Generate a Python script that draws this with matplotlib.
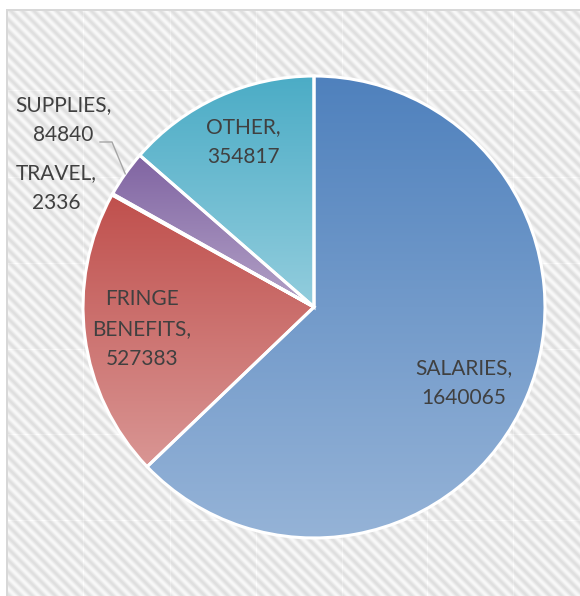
import numpy as np
import matplotlib.pyplot as plt

categories = ['SALARIES', 'FRINGE BENEFITS', 'TRAVEL', 'SUPPLIES', 'OTHER']
values = [1640065, 527383, 2336, 84840, 354817]

top_colors = ['#4F81BD', '#C0504D', '#9BBB59', '#8064A2', '#4BACC6']
bottom_colors = ['#95B3D7', '#D99694', '#C3D69B', '#B3A2C7', '#93CDDD']

# label centres in pixels measured from the top-left corner
label_pos = [(464, 383), (142, 329), (56, 188), (63, 120), (243, 142)]

W, H = 580, 596
fig = plt.figure(figsize=(W / 100, H / 100), dpi=100)
ax = fig.add_axes([0, 0, 1, 1])

# striped chart-area texture
yy, xx = np.mgrid[0:H, 0:W]
stripe = 0.5 + 0.5 * np.cos(2 * np.pi * (xx - yy) / 11.5)
gray = 0.975 - 0.10 * stripe
for s in (83, 170, 256, 342, 427, 513):
    gray[:, s] = np.minimum(1, gray[:, s] + 0.03)
    if s + 7 < H:
        gray[s + 7, :] = np.minimum(1, gray[s + 7, :] + 0.03)
gray[:, :7] = 1.0
gray[:10, :] = 1.0
gray[10:, 6:8] = 0.85
gray[9:11, 6:] = 0.85
ax.imshow(np.dstack([gray] * 3), extent=(0, W, 0, H), origin='upper',
          interpolation='bilinear', zorder=0)

cx, cy, r = 314, H - 307, 231
wedges, _ = ax.pie(values, startangle=90, counterclock=False, center=(cx, cy),
                   radius=r, wedgeprops=dict(edgecolor='white', linewidth=2.2,
                                             facecolor='none', zorder=3))

# vertical gradient fill for each slice
for w, c0, c1 in zip(wedges, top_colors, bottom_colors):
    ext = w.get_path().get_extents()
    a = np.array(plt.matplotlib.colors.to_rgb(c0))
    b = np.array(plt.matplotlib.colors.to_rgb(c1))
    t = np.linspace(0, 1, 256)[:, None, None]
    grad = a * (1 - t) + b * t
    im = ax.imshow(grad, extent=(ext.x0, ext.x1, ext.y0, ext.y1), origin='upper',
                   aspect='auto', zorder=2)
    im.set_clip_path(w)

for cat, val, (x, y) in zip(categories, values, label_pos):
    txt = cat.replace(' ', '\n') + ',\n' + str(val)
    ax.text(x, H - y, txt, ha='center', va='center', fontsize=15, color='#404040',
            family='Lato', linespacing=1.6, zorder=5)

# leader line for SUPPLIES
ws = wedges[3]
th = np.deg2rad((ws.theta1 + ws.theta2) / 2)
px, py = cx + r * np.cos(th), cy + r * np.sin(th)
ax.plot([100, 112, px], [H - 142, H - 142, py], color='#A6A6A6', lw=1, zorder=4)

ax.set_xlim(0, W)
ax.set_ylim(0, H)
ax.set_aspect('auto')
ax.axis('off')
fig.savefig('out.png', dpi=100)
